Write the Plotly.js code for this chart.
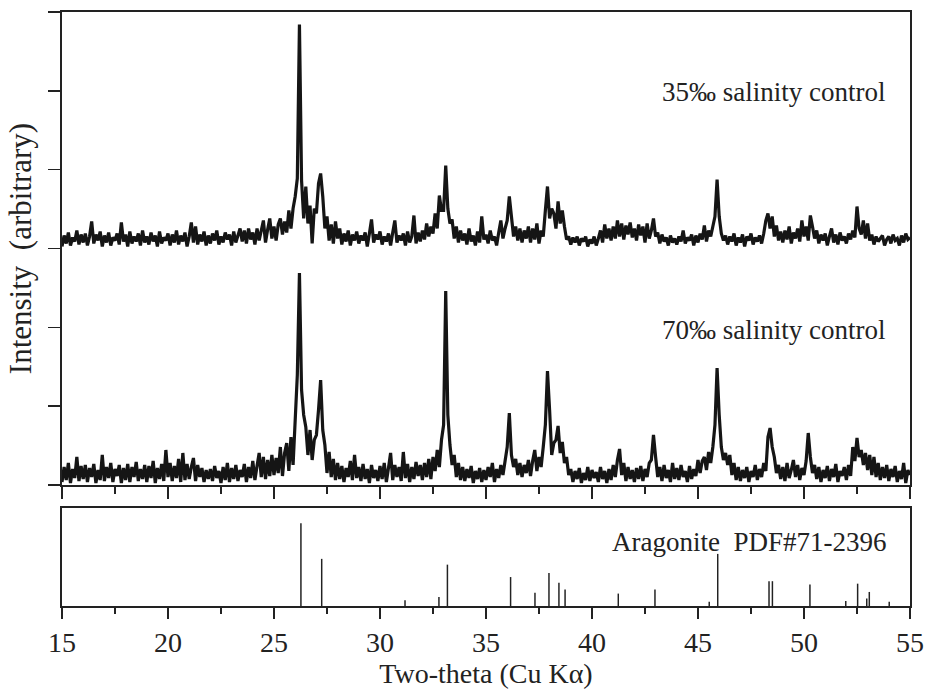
<!DOCTYPE html>
<html>
<head>
<meta charset="utf-8">
<script src="https://cdn.plot.ly/plotly-3.0.1.min.js"></script>
<style>html,body{margin:0;padding:0;background:#fff;}#chart{width:930px;height:695px;}</style>
</head>
<body>
<div id="chart"></div>
<script>
// Scan grid (degrees two-theta)
const scanStart = 15.0;
const scanStep = 0.1;

// 70‰ salinity control (intensity, arbitrary units), one row per degree 15.x ... 54.x, then 55.0
const series70 = [
  3,18,5,22,2,16,7,28,4,19,
  6,20,3,17,8,21,2,15,5,30,
  4,18,7,22,3,16,9,20,2,17,
  5,21,3,18,8,23,4,16,6,20,
  3,19,7,24,2,17,6,21,4,35,
  8,22,4,19,7,26,3,32,5,21,
  6,18,27,4,20,8,17,3,15,6,
  16,4,19,7,14,2,18,5,22,3,
  17,6,20,4,15,8,21,3,18,7,
  24,5,19,32,8,28,6,25,9,30,
  10,27,12,38,9,32,42,14,48,20,
  65,110,212,95,70,58,30,55,25,45,
  50,75,105,55,40,12,33,8,26,5,
  22,6,19,3,17,8,24,5,30,7,
  18,4,21,6,16,2,20,7,15,4,
  19,6,22,3,17,32,5,20,8,18,
  4,33,7,21,3,18,6,23,9,20,
  5,22,8,26,6,28,14,35,18,45,
  60,194,70,40,20,30,8,22,5,18,
  4,16,7,19,2,14,6,17,3,15,
  5,18,8,22,3,16,7,20,10,24,
  38,72,30,18,26,10,22,8,20,12,
  25,9,24,35,14,28,18,38,60,114,
  75,30,42,45,59,32,43,22,28,10,
  16,3,14,6,17,2,12,5,18,4,
  15,7,13,3,18,6,14,2,16,5,
  20,8,25,36,10,22,4,18,6,15,
  3,17,6,19,4,16,8,22,25,50,
  28,8,18,4,20,7,15,3,22,6,
  17,5,20,8,14,3,19,6,16,9,
  25,12,24,28,15,33,22,38,60,117,
  70,38,25,32,20,30,10,22,5,18,
  4,15,7,18,3,14,8,20,5,16,
  8,22,14,48,57,38,28,12,20,6,
  18,4,22,7,15,25,8,20,5,17,
  10,24,52,28,12,20,6,18,3,15,
  7,19,4,16,8,21,3,14,9,18,
  5,20,9,38,24,47,28,35,20,32,
  15,30,10,28,8,22,5,18,7,20,
  4,16,8,19,3,14,6,22,2,15,
  10
];

// 35‰ salinity control (intensity above its own baseline, arbitrary units)
const series35 = [
  2,13,5,16,3,11,7,18,4,14,
  6,15,3,12,27,5,14,8,17,2,
  13,6,16,3,11,8,15,4,26,7,
  14,2,17,5,12,7,15,3,18,6,
  12,4,16,7,13,2,17,5,11,8,
  15,3,14,6,18,4,13,7,16,2,
  12,26,6,22,4,14,7,17,3,13,
  5,15,8,18,4,12,6,16,9,14,
  3,17,6,13,20,7,18,5,20,9,
  16,4,20,8,18,28,6,19,30,10,
  22,8,24,30,14,27,16,38,20,40,
  52,70,224,68,30,62,25,43,5,40,
  35,65,75,52,20,32,8,24,5,27,
  10,20,4,15,7,18,3,14,8,17,
  5,13,8,16,2,15,29,6,14,9,
  17,4,12,7,15,3,16,28,6,13,
  8,15,3,17,6,12,33,5,16,7,
  18,9,25,12,22,15,35,20,53,38,
  38,83,40,25,29,10,22,6,18,8,
  15,4,20,7,13,3,17,6,32,9,
  14,5,18,8,12,3,16,28,10,20,
  28,52,32,12,22,8,20,6,18,10,
  22,6,20,9,25,5,18,12,38,62,
  30,40,35,20,47,25,38,22,9,12,
  4,11,6,12,3,10,7,12,2,9,
  5,12,3,10,18,6,24,10,20,8,
  22,10,28,12,25,9,23,14,26,11,
  20,8,24,13,22,6,25,10,18,30,
  12,16,5,14,7,11,3,13,6,10,
  4,12,7,18,5,11,8,14,3,13,
  6,15,9,23,7,18,12,22,32,69,
  32,15,8,13,4,12,7,15,3,11,
  6,14,2,12,8,15,4,11,7,13,
  5,15,28,35,20,32,12,23,8,17,
  6,18,9,22,5,16,10,20,7,28,
  12,22,8,33,22,10,18,5,14,8,
  15,3,12,20,6,14,4,16,8,12,
  5,15,9,18,11,42,20,14,28,10,
  25,8,14,4,12,7,10,13,3,9,
  12,5,14,8,10,3,13,6,15,9,
  11
];

// Aragonite reference pattern PDF#71-2396 (relative intensity)
const pdfAngles = [26.27,27.25,31.18,32.78,33.18,36.16,37.31,37.97,38.44,38.73,41.24,42.97,45.53,45.93,48.35,48.51,50.28,51.97,52.53,52.96,53.08,54.02];
const pdfIntensity = [100,57,7,11,50,35,16,40,28,20,15,20,5,63,30,30,26,6,27,9,17,5];

const xTickVals = [15,20,25,30,35,40,45,50,55];
const xTickText = ['15','20','25','30','35','40','45','50','55'];

const labels = {
  top: '35\u2030 salinity control',
  mid: '70\u2030 salinity control',
  ref: 'Aragonite\u00a0\u00a0PDF#71-2396'
};

// ---- build ----
const twoTheta = series70.map((_, i) => +(scanStart + i * scanStep).toFixed(1));
const yTop = 473;               // top panel intensity range
const tickStep = yTop / 6;      // 6 tick intervals
const offset35 = 3 * tickStep;  // vertical stacking offset of upper pattern

const serif = 'Liberation Serif';
const ink = '#151515';

const traces = [
  {x: twoTheta, y: series70, type: 'scatter', mode: 'lines', xaxis: 'x2', yaxis: 'y',
   line: {color: ink, width: 3.2, simplify: false}, hoverinfo: 'x+y', name: '70‰'},
  {x: twoTheta, y: series35.map(v => v + offset35), type: 'scatter', mode: 'lines', xaxis: 'x2', yaxis: 'y',
   line: {color: ink, width: 3.2, simplify: false}, hoverinfo: 'x+y', name: '35‰'},
  {x: pdfAngles, y: pdfIntensity, type: 'bar', xaxis: 'x', yaxis: 'y2', width: 0.07,
   marker: {color: '#222', line: {width: 0}}, name: 'PDF#71-2396'}
];

const axisCommon = {linecolor: '#222', linewidth: 1.6, showgrid: false, zeroline: false};

const layout = {
  width: 930, height: 695,
  margin: {l: 62, r: 20, t: 12, b: 89},
  paper_bgcolor: '#fff', plot_bgcolor: '#fff',
  showlegend: false,
  font: {family: serif, color: '#222'},
  xaxis: Object.assign({}, axisCommon, {
    anchor: 'y2', range: [15, 55], showline: true, mirror: true,
    tickmode: 'array', tickvals: xTickVals, ticktext: xTickText,
    ticks: 'outside', ticklen: 11, tickwidth: 1.6, tickcolor: '#222',
    minor: {tickmode: 'linear', tick0: 15, dtick: 2.5, ticks: 'outside', ticklen: 6, tickwidth: 1.6, tickcolor: '#222'},
    tickfont: {family: serif, size: 28, color: '#222'},
    title: {text: 'Two-theta (Cu K\u03b1)', font: {family: serif, size: 28, color: '#222'}, standoff: 4}
  }),
  xaxis2: Object.assign({}, axisCommon, {
    anchor: 'y', matches: 'x', range: [15, 55], showline: true, mirror: true,
    tickmode: 'array', tickvals: xTickVals, showticklabels: false,
    ticks: 'outside', ticklen: 12, tickwidth: 1.6, tickcolor: '#222',
    minor: {tickmode: 'linear', tick0: 15, dtick: 2.5, ticks: 'outside', ticklen: 7, tickwidth: 1.6, tickcolor: '#222'}
  }),
  yaxis: Object.assign({}, axisCommon, {
    domain: [121 / 594, 1], range: [0, yTop], showline: true, mirror: true,
    tickmode: 'linear', tick0: 0, dtick: tickStep, showticklabels: false,
    ticks: 'outside', ticklen: 12, tickwidth: 1.6, tickcolor: '#222',
    title: {text: 'Intensity\u00a0\u00a0(arbitrary)', font: {family: serif, size: 31, color: '#222'}, standoff: 7}
  }),
  yaxis2: Object.assign({}, axisCommon, {
    domain: [0, 98 / 594], range: [0, 118.5], showline: true, mirror: true,
    showticklabels: false, ticks: ''
  }),
  annotations: [
    {xref: 'x2', yref: 'y', x: 53.92, y: 393, xanchor: 'right', yanchor: 'middle', showarrow: false,
     text: labels.top, font: {family: serif, size: 27, color: '#222'}},
    {xref: 'x2', yref: 'y', x: 53.92, y: 155, xanchor: 'right', yanchor: 'middle', showarrow: false,
     text: labels.mid, font: {family: serif, size: 27, color: '#222'}},
    {xref: 'x', yref: 'y2', x: 53.96, y: 77.4, xanchor: 'right', yanchor: 'middle', showarrow: false,
     text: labels.ref, font: {family: serif, size: 27, color: '#222'}}
  ]
};

Plotly.newPlot('chart', traces, layout, {staticPlot: true, displayModeBar: false});
</script>
</body>
</html>
